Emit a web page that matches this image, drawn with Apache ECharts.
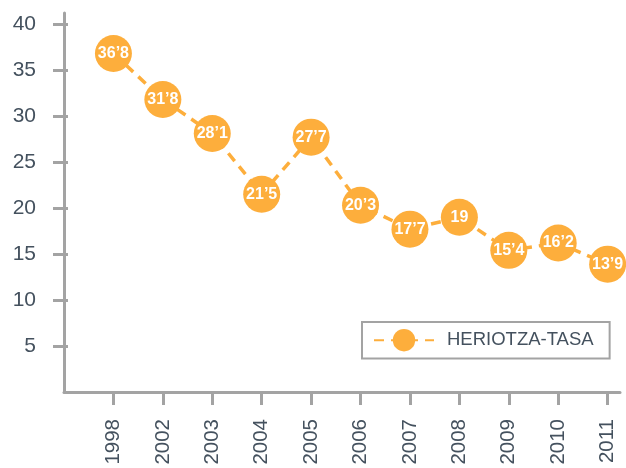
<!DOCTYPE html>
<html><head><meta charset="utf-8">
<script src="https://cdn.jsdelivr.net/npm/echarts@6/dist/echarts.min.js"></script>
<style>html,body{margin:0;padding:0;background:#fff}#c{width:626px;height:468px}</style>
</head><body><div id="c"></div>
<script>
const years = ['1998','2002','2003','2004','2005','2006','2007','2008','2009','2010','2011'];
const values = [36.8, 31.8, 28.1, 21.5, 27.7, 20.3, 17.7, 19, 15.4, 16.2, 13.9];
const yTicks = [5, 10, 15, 20, 25, 30, 35, 40];
const seriesName = 'HERIOTZA-TASA';

const positions = years.map((y, i) => i + 1);
const points = values.map((v, i) => [positions[i], v]);
const orange = '#FDAE3C';
const axisGray = '#a3a3a3';
const textColor = '#44515e';
const font = '"Liberation Sans", Arial, sans-serif';

const chart = echarts.init(document.getElementById('c'), null, {renderer: 'canvas'});
chart.setOption({
  animation: false,
  grid: {left: 64, right: 6, top: 13, bottom: 76},
  xAxis: {
    type: 'value', min: 0, max: 11.25, interval: 1,
    splitLine: {show: false},
    axisLine: {show: true, lineStyle: {color: axisGray, width: 3}},
    axisTick: {show: true, customValues: positions, length: 13, lineStyle: {color: axisGray, width: 3}},
    axisLabel: {
      customValues: positions, rotate: 90, margin: 27,
      color: textColor, fontSize: 20.5, fontFamily: font,
      formatter: v => years[Math.round(v) - 1]
    }
  },
  yAxis: [{
    type: 'value', min: 0, max: 41.2, interval: 5,
    splitLine: {show: false},
    axisLine: {show: true, lineStyle: {color: axisGray, width: 3}},
    axisTick: {show: true, customValues: yTicks, length: 11, lineStyle: {color: axisGray, width: 3}},
    axisLabel: {customValues: yTicks, margin: 28, color: textColor, fontSize: 21, fontFamily: font}
  }, {
    type: 'value', min: 0, max: 41.2, interval: 5, position: 'left',
    splitLine: {show: false},
    axisLine: {show: false},
    axisTick: {show: true, inside: true, customValues: yTicks, length: 4, lineStyle: {color: axisGray, width: 3}},
    axisLabel: {show: false}
  }],
  legend: {
    left: 362, top: 322, orient: 'horizontal',
    padding: [7, 16, 7, 11],
    borderColor: axisGray, borderWidth: 2, borderRadius: 0,
    itemWidth: 60, itemHeight: 28, itemGap: 0,
    textStyle: {color: textColor, fontSize: 18.5, fontFamily: font, padding: [0, 0, 0, 8]},
    data: [seriesName]
  },
  series: [{
    name: seriesName, type: 'line', data: points,
    symbol: 'circle', symbolSize: 37,
    itemStyle: {color: orange},
    lineStyle: {color: orange, width: 3.5, type: [10, 7]},
    label: {
      show: true, position: 'inside', color: '#fff', fontWeight: 'bold',
      fontSize: 16, fontFamily: font,
      formatter: p => String(p.value[1]).replace('.', '\u2019')
    }
  }]
});
</script></body></html>
